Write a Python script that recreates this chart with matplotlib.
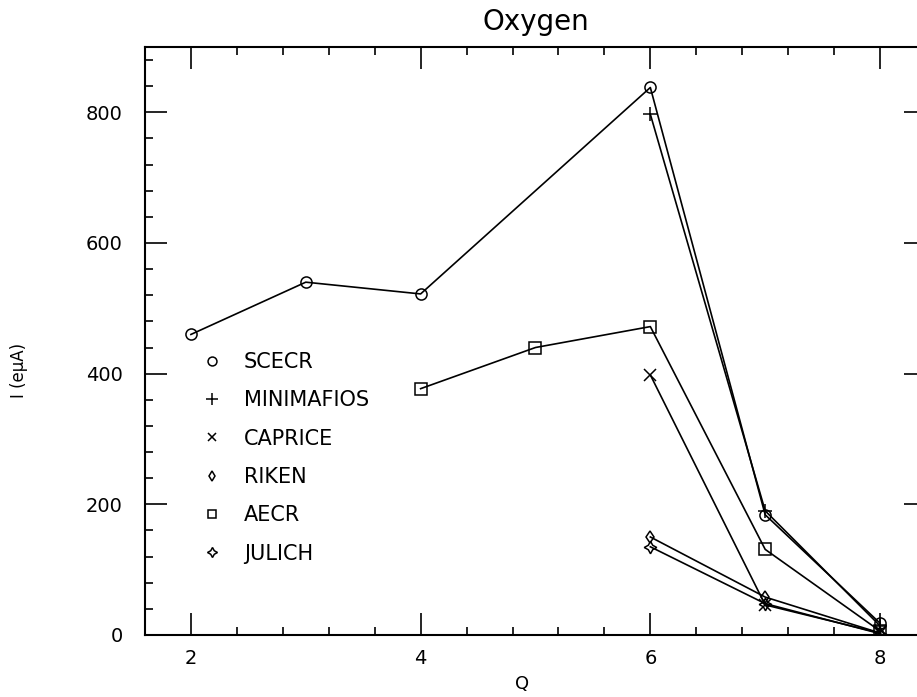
import numpy as np
import matplotlib
matplotlib.use("Agg")
import matplotlib.pyplot as plt
from matplotlib.ticker import MultipleLocator

# charge states and beam currents (e uA) for oxygen
q_scecr = [2, 3, 4, 6, 7, 8]
i_scecr = [460, 540, 522, 838, 184, 18]
q_mini = [6, 7, 8]
i_mini = [797, 190, 14]
q_caprice = [6, 7, 8]
i_caprice = [398, 46, 3]
q_riken = [6, 7, 8]
i_riken = [150, 58, 3]
q_aecr = [4, 5, 6, 7, 8]
i_aecr = [377, 440, 472, 131, 6]
q_julich = [6, 7, 8]
i_julich = [135, 48, 2]

names = ["SCECR", "MINIMAFIOS", "CAPRICE", "RIKEN", "AECR", "JULICH"]
markers = ["o", "+", "x", "d", "s", (4, 1, 0)]
sizes = [8, 10, 8, 6, 8, 9]

fig = plt.figure(figsize=(9.17, 6.97), dpi=100)
ax = fig.add_axes([0.1581, 0.0890, 0.8517, 0.8436])

series = [(q_scecr, i_scecr), (q_mini, i_mini), (q_caprice, i_caprice),
          (q_riken, i_riken), (q_aecr, i_aecr), (q_julich, i_julich)]
for (q, cur), name, m, s in zip(series, names, markers, sizes):
    ax.plot(q, cur, color="black", lw=1.2, marker=m, ms=s,
            mfc="none", mec="black", mew=1.1, label=name)

ax.set_xlim(1.6, 8.4)
ax.set_ylim(0, 900)
ax.xaxis.set_major_locator(MultipleLocator(2))
ax.xaxis.set_minor_locator(MultipleLocator(0.4))
ax.yaxis.set_major_locator(MultipleLocator(200))
ax.yaxis.set_minor_locator(MultipleLocator(40))
ax.tick_params(which="both", direction="in", top=True, right=True, width=1.2)
ax.tick_params(which="major", length=16)
ax.tick_params(which="minor", length=6)
ax.tick_params(axis="y", labelsize=14, pad=16)
ax.tick_params(axis="x", labelsize=14, pad=10)
for sp in ax.spines.values():
    sp.set_linewidth(1.5)

ax.set_title("Oxygen", fontsize=20, pad=12)
ax.set_xlabel("Q", fontsize=13)
ax.xaxis.set_label_coords(0.483, -0.068)
ax.set_ylabel("I (e\u03bcA)", fontsize=12)
ax.yaxis.set_label_coords(-0.150, 0.45)

# legend: markers only, no frame
handles = []
for m, s in zip(markers, sizes):
    h, = ax.plot([], [], ls="none", marker=m, ms=s * 0.8, mfc="none",
                 mec="black", mew=1.1, color="black")
    handles.append(h)
ax.legend(handles, names, loc="upper left", bbox_to_anchor=(0.049, 0.513),
          frameon=False, fontsize=15, handlelength=1.0, handletextpad=1.0,
          labelspacing=0.88)

fig.savefig("out.png", dpi=100)
